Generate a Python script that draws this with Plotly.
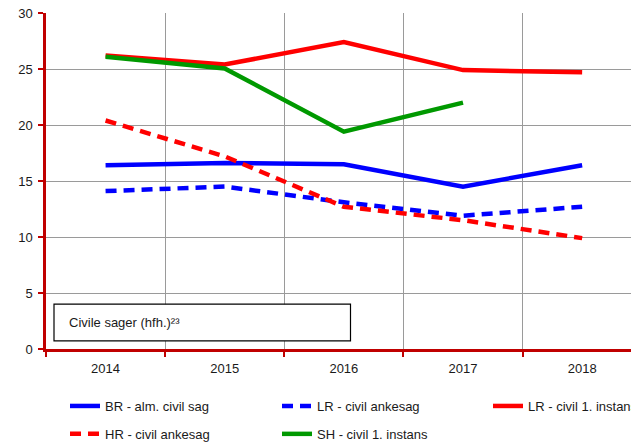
import plotly.graph_objects as go

years = ["2014", "2015", "2016", "2017", "2018"]
br_alm_civil = [16.4, 16.6, 16.5, 14.5, 16.4]
lr_civil_anke = [14.1, 14.5, 13.1, 11.9, 12.7]
lr_civil_1inst = [26.2, 25.4, 27.4, 24.9, 24.7]
hr_civil_anke = [20.4, 17.2, 12.7, 11.5, 9.9]
sh_civil_1inst = [26.1, 25.05, 19.4, 22.0, None]

names = ["BR - alm. civil sag", "LR - civil ankesag", "LR - civil 1. instans",
         "HR - civil ankesag", "SH - civil 1. instans"]
series = [br_alm_civil, lr_civil_anke, lr_civil_1inst, hr_civil_anke, sh_civil_1inst]
colors = ["#0000FF", "#0000FF", "#FF0000", "#FF0000", "#009900"]
dashes = ["solid", "11px,7px", "solid", "11px,7px", "solid"]
legends = ["legend", "legend2", "legend3", "legend", "legend2"]

FONT = "Liberation Sans, Arial, sans-serif"
AXIS_RED = "#C00000"
PW = 585  # plot width in px
L = 46

fig = go.Figure()
for i, (n, s, c, d, lg) in enumerate(zip(names, series, colors, dashes, legends)):
    fig.add_trace(go.Scatter(
        x=years, y=s, name=n, mode="lines",
        line=dict(color=c, width=4.5, dash=d),
        legend=lg, legendgroup=f"g{i}", connectgaps=False,
    ))

leg_common = dict(orientation="v", yanchor="top", xanchor="left",
                  font=dict(family=FONT, size=13, color="#1a1a1a"),
                  bgcolor="rgba(0,0,0,0)", tracegroupgap=8, itemwidth=30)

LEG_Y = -0.125

fig.update_layout(
    width=631, height=447,
    margin=dict(l=L, r=0, t=13, b=98, autoexpand=False),
    paper_bgcolor="white", plot_bgcolor="white",
    font=dict(family=FONT, size=13, color="#1a1a1a"),
    xaxis=dict(
        type="category", range=[-0.5, 4.41], tickson="boundaries",
        showgrid=True, gridcolor="#9a9a9a", gridwidth=1,
        showline=True, linecolor=AXIS_RED, linewidth=2.5,
        ticks="outside", ticklen=5, tickcolor=AXIS_RED, tickwidth=2,
        ticklabelstandoff=6, ticklabeloverflow="allow",
        tickfont=dict(family=FONT, size=13, color="#1a1a1a"),
        zeroline=False, fixedrange=True,
    ),
    yaxis=dict(
        range=[0, 30], tickvals=[0, 5, 10, 15, 20, 25, 30],
        showgrid=True, gridcolor="#9a9a9a", gridwidth=1,
        showline=True, linecolor=AXIS_RED, linewidth=2.5,
        ticks="outside", ticklen=5, tickcolor=AXIS_RED, tickwidth=2,
        ticklabelstandoff=3, ticklabeloverflow="allow",
        tickfont=dict(family=FONT, size=13, color="#1a1a1a"),
        zeroline=False, fixedrange=True,
    ),
    legend=dict(x=(65 - L) / PW, y=LEG_Y, **leg_common),
    legend2=dict(x=(277 - L) / PW, y=LEG_Y, **leg_common),
    legend3=dict(x=(488 - L) / PW, y=LEG_Y, **leg_common),
    showlegend=True,
)

fig.add_shape(type="rect", xref="paper", yref="y",
              x0=(54 - L) / PW, x1=(350.5 - L) / PW, y0=0.72, y1=4.0,
              line=dict(color="black", width=1.2), fillcolor="white", layer="above")
fig.add_annotation(xref="paper", yref="y", x=(67 - L) / PW, y=2.36,
                   text="Civile sager (hfh.)²³", showarrow=False, xanchor="left",
                   yanchor="middle", font=dict(family=FONT, size=13, color="#1a1a1a"))

fig.write_html("out.html", config={"displayModeBar": False},
               post_script="document.body.style.margin='0';document.body.style.overflow='hidden';")
